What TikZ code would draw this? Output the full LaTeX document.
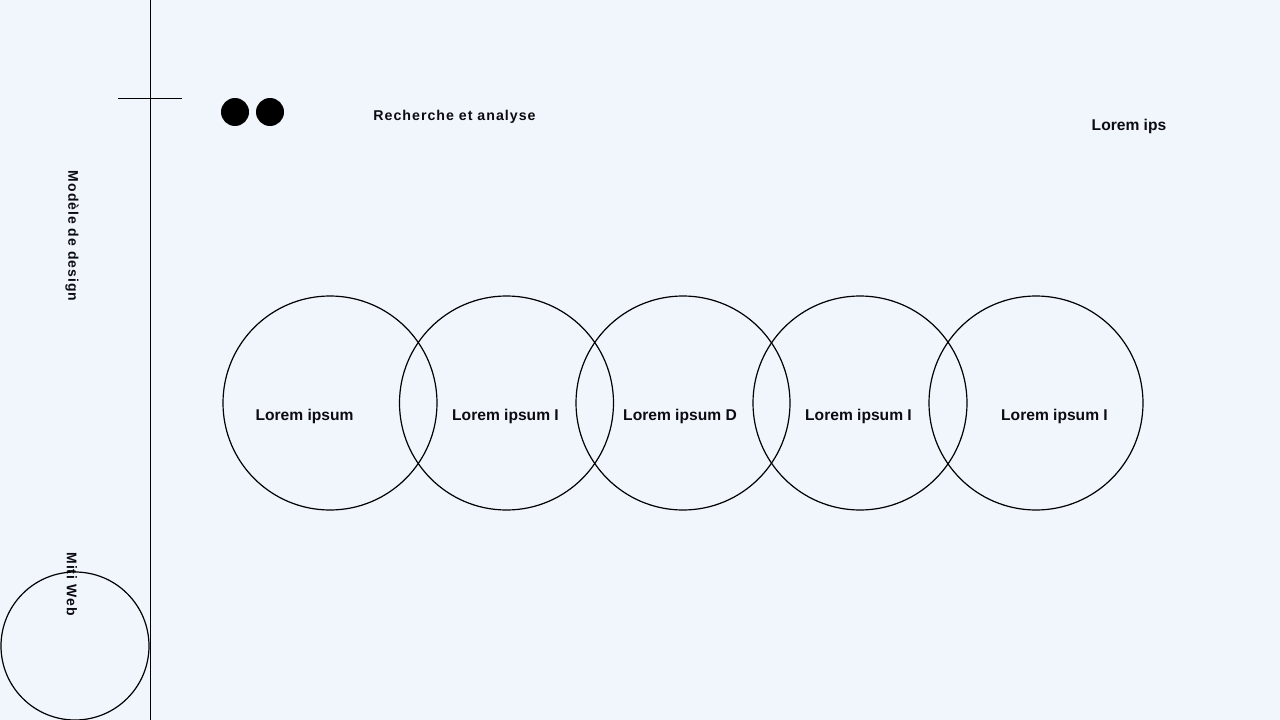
\documentclass[tikz,border=0pt]{standalone}
\usepackage{fontspec}
\setmainfont{Liberation Sans}
\newfontfamily\spacedfont[LetterSpace=7]{Liberation Sans}
\newfontfamily\widefont[LetterSpace=7]{Liberation Sans}
\definecolor{bgcol}{HTML}{F1F6FD}
\definecolor{ink}{HTML}{0B0B10}
\begin{document}
\begin{tikzpicture}[x=1pt,y=-1pt,
  ring/.style={circle,draw=black,line width=1.2pt,minimum size=214pt,inner sep=0pt},
  lbl/.style={font=\fontsize{15.6}{18}\selectfont\bfseries,text=ink,inner sep=0pt},
  side/.style={font=\widefont\fontsize{14}{16}\selectfont\bfseries,text=ink,rotate=-90,inner sep=0pt},
  dot/.style={circle,fill=black,minimum size=28pt,inner sep=0pt},
  thin/.style={line width=1pt,black}]
\fill[bgcol] (0,0) rectangle (1280,720);
\useasboundingbox (0,0) rectangle (1280,720);
% left rule and tick
\coordinate (vt) at (150,0);
\coordinate (vb) at (150,720);
\draw[thin] (vt) -- (vb);
\coordinate (hl) at (118,98);
\coordinate (hr) at (182,98);
\draw[thin] (hl) -- (hr);
% dots
\node[dot] (d1) at (235,112) {};
\node[dot] (d2) at (270,112) {};
% header texts
\node[font=\spacedfont\fontsize{14.2}{16}\selectfont\bfseries,text=ink,inner sep=0pt] (title) at (454.5,117) {Recherche et analyse};
\node[lbl] (corner) at (1129,126) {Lorem ips};
% side texts
\node[side] (model) at (72,236) {Modèle de design};
\node[side] (web) at (72,584) {Miti Web};
% small circle
\node[circle,draw=black,line width=1.2pt,minimum size=148pt,inner sep=0pt] (small) at (75,646) {};
% five circles
\node[ring] (c1) at (330,403) {};
\node[ring] (c2) at (506.5,403) {};
\node[ring] (c3) at (683,403) {};
\node[ring] (c4) at (860,403) {};
\node[ring] (c5) at (1036,403) {};
% labels
\node[lbl] (t1) at (304.5,416) {Lorem ipsum};
\node[lbl] (t2) at (505.5,416) {Lorem ipsum I};
\node[lbl] (t3) at (680,416) {Lorem ipsum D};
\node[lbl] (t4) at (858.5,416) {Lorem ipsum I};
\node[lbl] (t5) at (1054.5,416) {Lorem ipsum I};
\end{tikzpicture}
\end{document}
